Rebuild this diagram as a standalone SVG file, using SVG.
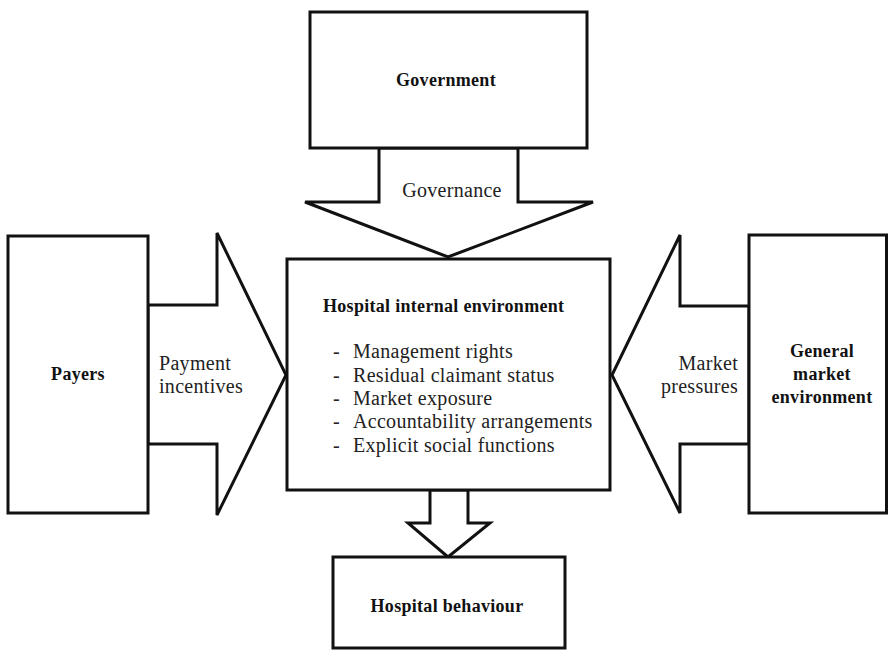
<svg xmlns="http://www.w3.org/2000/svg" width="889" height="650" viewBox="0 0 889 650">
<style>
.box{fill:#fff;stroke:#111;stroke-width:3;stroke-linejoin:miter}
.arr{fill:#fff;stroke:#111;stroke-width:3;stroke-linejoin:miter}
.b{font-family:"Liberation Serif",serif;font-weight:bold;font-size:18px;fill:#111;letter-spacing:0.3px}
.t{font-family:"Liberation Serif",serif;font-size:20px;fill:#222;letter-spacing:0.3px}
</style>
<rect width="889" height="650" fill="#fff"/>
<g id="connectors">
<polygon class="arr" points="379,148 379,202 305,202 448,257 593,202 518,202 518,148"/>
<polygon class="arr" points="148,305 217,305 217,233 286,375 217,515 217,444 148,444"/>
<polygon class="arr" points="749,306 680,306 680,235 612,375 680,513 680,444 749,444"/>
<polygon class="arr" points="430,490 430,523 408,523 448,557 490,523 468,523 468,490"/>
<text class="t" x="452" y="197" text-anchor="middle">Governance</text>
<text class="t" x="159" y="370">Payment</text>
<text class="t" x="159" y="393">incentives</text>
<text class="t" x="738" y="370" text-anchor="end">Market</text>
<text class="t" x="738" y="393" text-anchor="end">pressures</text>
</g>
<g id="government">
<rect class="box" x="310" y="12" width="277" height="136"/>
<text class="b" x="446" y="86" text-anchor="middle">Government</text>
</g>
<g id="payers">
<rect class="box" x="8" y="236" width="140" height="277"/>
<text class="b" x="78" y="380" text-anchor="middle">Payers</text>
</g>
<g id="market">
<rect class="box" x="749" y="235" width="137.5" height="278"/>
<text class="b" x="822" y="357" text-anchor="middle">General</text>
<text class="b" x="822" y="380" text-anchor="middle">market</text>
<text class="b" x="822" y="403" text-anchor="middle">environment</text>
</g>
<g id="hospital-internal">
<rect class="box" x="287" y="259" width="323" height="231"/>
<text class="b" x="323" y="312">Hospital internal environment</text>
<text class="t" x="333" y="358">-</text><text class="t" x="353" y="358">Management rights</text>
<text class="t" x="333" y="382">-</text><text class="t" x="353" y="382">Residual claimant status</text>
<text class="t" x="333" y="405">-</text><text class="t" x="353" y="405">Market exposure</text>
<text class="t" x="333" y="428">-</text><text class="t" x="353" y="428">Accountability arrangements</text>
<text class="t" x="333" y="452">-</text><text class="t" x="353" y="452">Explicit social functions</text>
</g>
<g id="hospital-behaviour">
<rect class="box" x="333" y="557" width="232" height="91"/>
<text class="b" x="447" y="612" text-anchor="middle">Hospital behaviour</text>
</g>
</svg>
